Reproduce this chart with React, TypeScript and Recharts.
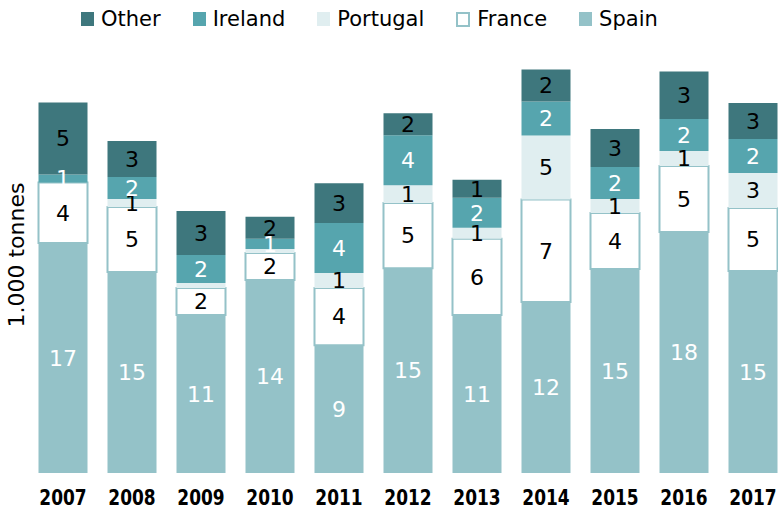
import React from 'react';
import { BarChart, Bar, XAxis, YAxis, LabelList } from 'recharts';

const years = ['2007', '2008', '2009', '2010', '2011', '2012', '2013', '2014', '2015', '2016', '2017'];
const spain = [16.73, 14.62, 11.49, 14.04, 9.3, 14.9, 11.49, 12.44, 14.84, 17.53, 14.69];
const france = [4.4, 4.73, 1.96, 1.96, 4.15, 4.73, 5.55, 7.45, 4.07, 4.8, 4.58];
const portugal = [0, 0.58, 0.36, 0.3, 1.09, 1.3, 0.8, 4.65, 1.02, 1.09, 2.55];
const ireland = [0.58, 1.6, 2.04, 0.73, 3.64, 3.64, 2.18, 2.47, 2.33, 2.33, 2.47];
const other = [5.24, 2.62, 3.2, 1.6, 2.9, 1.6, 1.31, 2.33, 2.76, 3.45, 2.62];

const data = years.map((year, i) => ({
  year,
  Spain: spain[i],
  France: france[i],
  Portugal: portugal[i],
  Ireland: ireland[i],
  Other: other[i],
}));

const FONT = '"DejaVu Sans", Verdana, sans-serif';

// legend reads top-down order of the stack
const legendItems = [
  { name: 'Other', fill: '#3e777d', stroke: '#3e777d' },
  { name: 'Ireland', fill: '#56a5ae', stroke: '#56a5ae' },
  { name: 'Portugal', fill: '#e0eef0', stroke: '#e0eef0' },
  { name: 'France', fill: '#ffffff', stroke: '#94c2c8' },
  { name: 'Spain', fill: '#94c2c8', stroke: '#94c2c8' },
];

const roundLabel = (v: any) => {
  const n = Math.round(Number(v));
  return n === 0 ? '' : String(n);
};

const labelStyle = (color: string) => ({
  fill: color,
  fontSize: 22,
  fontFamily: FONT,
});

// year ticks look a bit taller than wide in the original, stretch them slightly
const YearTick = (props: any) => {
  const { x, payload } = props;
  return (
    <text
      transform={`translate(${x}, 505) scale(1, 1.22)`}
      textAnchor="middle"
      fill="#000"
      fontSize={17}
      fontWeight="bold"
      fontFamily={FONT}
    >
      {payload.value}
    </text>
  );
};

export default function App() {
  return (
    <div style={{ position: 'absolute', left: 0, top: 0, width: 778, height: 510, overflow: 'hidden', fontFamily: FONT }}>
      <div
        style={{
          position: 'absolute',
          left: 81,
          top: 7,
          display: 'flex',
          alignItems: 'center',
          gap: 32,
          fontSize: 21,
          color: '#000',
          zIndex: 2,
        }}
      >
        {legendItems.map((it) => (
          <div key={it.name} style={{ display: 'flex', alignItems: 'center' }}>
            <span
              style={{
                display: 'inline-block',
                width: it.name === 'France' ? 10 : 13,
                height: it.name === 'France' ? 11 : 14,
                background: it.fill,
                border: it.name === 'France' ? `2px solid ${it.stroke}` : 'none',
                marginRight: 7,
              }}
            />
            <span>{it.name}</span>
          </div>
        ))}
      </div>
      <div
        style={{
          position: 'absolute',
          left: 16,
          top: 255,
          transform: 'translate(-50%, -50%) rotate(-90deg)',
          whiteSpace: 'nowrap',
          fontSize: 22,
          color: '#000',
          zIndex: 2,
        }}
      >
        1.000 tonnes
      </div>
      <BarChart
        width={790}
        height={510}
        data={data}
        margin={{ top: 60.5, right: 2.5, left: 28.5, bottom: 0 }}
        barSize={49}
      >
        <XAxis
          dataKey="year"
          axisLine={false}
          tickLine={false}
          height={37}
          interval={0}
          tick={<YearTick />}
        />
        <YAxis hide domain={[0, 30]} />
        <Bar dataKey="Spain" stackId="a" fill="#94c2c8" isAnimationActive={false}>
          <LabelList dataKey="Spain" position="center" formatter={roundLabel} style={labelStyle('#ffffff')} />
        </Bar>
        <Bar dataKey="France" stackId="a" fill="#ffffff" stroke="#94c2c8" strokeWidth={2} isAnimationActive={false}>
          <LabelList dataKey="France" position="center" formatter={roundLabel} style={labelStyle('#000000')} />
        </Bar>
        <Bar dataKey="Portugal" stackId="a" fill="#e0eef0" isAnimationActive={false}>
          <LabelList dataKey="Portugal" position="center" formatter={roundLabel} style={labelStyle('#000000')} />
        </Bar>
        <Bar dataKey="Ireland" stackId="a" fill="#56a5ae" isAnimationActive={false}>
          <LabelList dataKey="Ireland" position="center" formatter={roundLabel} style={labelStyle('#ffffff')} />
        </Bar>
        <Bar dataKey="Other" stackId="a" fill="#3e777d" isAnimationActive={false}>
          <LabelList dataKey="Other" position="center" formatter={roundLabel} style={labelStyle('#000000')} />
        </Bar>
      </BarChart>
    </div>
  );
}
